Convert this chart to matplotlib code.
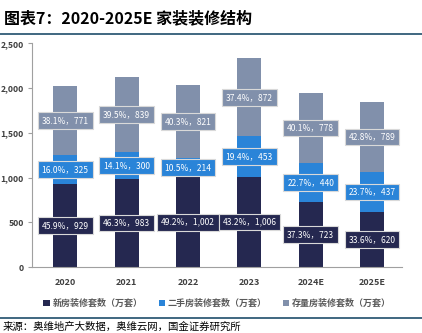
import matplotlib.pyplot as plt
import numpy as np

plt.rcParams['font.family'] = ['Noto Sans CJK SC', 'DejaVu Sans']

# === data ===
years = ['2020', '2021', '2022', '2023', '2024E', '2025E']
new_house = [929, 983, 1002, 1006, 723, 620]
second_hand = [325, 300, 214, 453, 440, 437]
stock_house = [771, 839, 821, 872, 778, 789]
new_pct = [45.9, 46.3, 49.2, 43.2, 37.3, 33.6]
second_pct = [16.0, 14.1, 10.5, 19.4, 22.7, 23.7]
stock_pct = [38.1, 39.5, 40.3, 37.4, 40.1, 42.8]
series_names = ['新房装修套数（万套）', '二手房装修套数（万套）', '存量房装修套数（万套）']

colors = ['#252850', '#2A84D8', '#8190AB']

fig = plt.figure(figsize=(4.22, 3.33), dpi=100)
ax = fig.add_axes([0.076, 0.198, 0.877, 0.672])

x = np.arange(len(years))
w = 0.39
bottoms = np.zeros(len(years))
all_vals = [new_house, second_hand, stock_house]
all_pcts = [new_pct, second_pct, stock_pct]
for vals, pcts, c, name in zip(all_vals, all_pcts, colors, series_names):
    vals = np.array(vals, dtype=float)
    ax.bar(x, vals, w, bottom=bottoms, color=c, label=name, zorder=2)
    for xi, b, v, p in zip(x, bottoms, vals, pcts):
        ax.text(xi, b + v / 2, f'{p:.1f}%，{int(v):,}', ha='center', va='center',
                color='white', fontsize=6.1, zorder=3,
                bbox=dict(boxstyle='square,pad=0.45', facecolor=c,
                          edgecolor='#d9d9d9', linewidth=0.8))
    bottoms += vals

ax.set_xlim(-0.54, 5.49)
ax.set_ylim(0, 2500)
ax.set_yticks([0, 500, 1000, 1500, 2000, 2500])
ax.set_yticklabels(['0', '500', '1,000', '1,500', '2,000', '2,500'])
ax.set_xticks(x)
ax.set_xticklabels(years)
for lab in ax.get_xticklabels() + ax.get_yticklabels():
    lab.set_fontweight('bold')
    lab.set_color('#404040')
ax.tick_params(axis='y', labelsize=6.2, length=3, color='#a0a0a0', pad=3)
ax.tick_params(axis='x', labelsize=6.5, length=0, pad=8)
ax.spines['top'].set_visible(False)
ax.spines['right'].set_visible(False)
ax.spines['left'].set_color('#a0a0a0')
ax.spines['bottom'].set_color('#a0a0a0')

leg = ax.legend(loc='upper center', bbox_to_anchor=(0.5, -0.105), ncol=3, frameon=False,
                fontsize=6.5, handlelength=0.7, handleheight=0.7, handletextpad=0.3,
                columnspacing=1.8)
for t in leg.get_texts():
    t.set_color('#595959')
    t.set_fontweight('bold')

# title and rules
fig.text(0.01, 0.945, '图表7：2020-2025E 家装装修结构', fontsize=11.5, fontweight='bold',
         style='italic', color='black', ha='left', va='center')
fig.add_artist(plt.Line2D([0.0, 1.0], [0.898, 0.898], color='#1F4E6B', linewidth=1.2))
fig.add_artist(plt.Line2D([0.0, 1.0], [0.045, 0.045], color='#1F4E6B', linewidth=1.2))
fig.text(0.005, 0.003, '来源：奥维地产大数据，奥维云网，国金证券研究所', fontsize=7.5,
         color='black', ha='left', va='bottom')

fig.savefig('out.png', dpi=100)
